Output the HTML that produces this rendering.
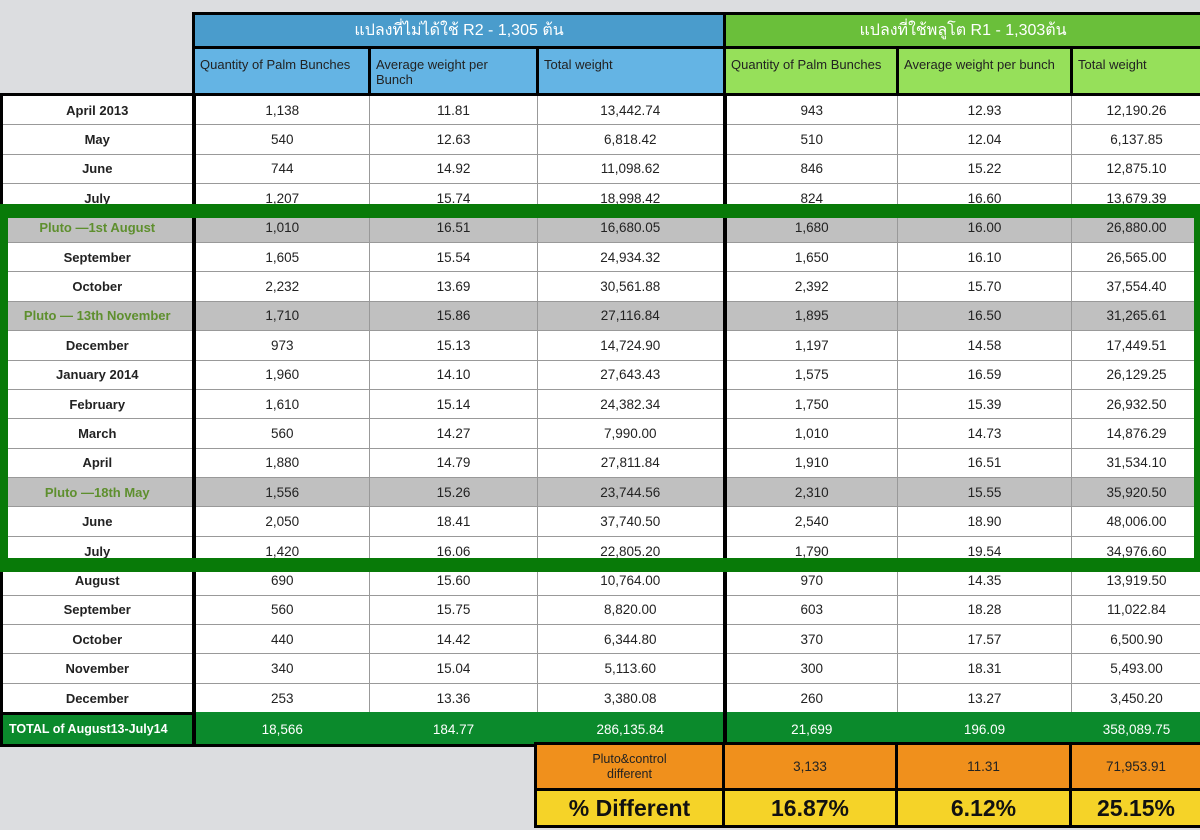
<!DOCTYPE html>
<html><head><meta charset="utf-8"><style>
body{margin:0;width:1200px;height:840px;position:relative;background:#fff;font-family:"Liberation Sans","Noto Sans CJK SC",sans-serif;overflow:hidden}
.bg{position:absolute;left:0;top:0;width:1200px;height:94px;background:#dcdde0}
.bg2{position:absolute;left:0;top:742px;width:1200px;height:88px;background:#dcdde0}
table{border-collapse:collapse;table-layout:fixed;position:absolute}
td{padding:0;font-size:13.5px;color:#222;text-align:center;overflow:hidden;white-space:nowrap}
#hd{left:192px;top:12px;width:1008px}
#hd td{border:3px solid #000;color:#fff}
#hd .t1{height:31px;font-size:16px}
#hd .t2{height:43px;text-align:left;vertical-align:top;padding:8px 0 0 5px;font-size:13px;color:#222;white-space:normal;line-height:15px}
#dt{left:0;top:93px;width:1200px;border-top:3px solid #000}
#dt td{height:28.4px;border:1px solid #999;background:#fff}
#dt td.l{font-weight:bold;font-size:13px;border-left:3px solid #000;border-right:4px solid #000}
#dt td.k{border-right:4px solid #000}
#dt tr.g td{background:#c0c0c0}
#dt tr.g td.l{color:#5e8f2e}
#dt tr.tot td{background:#0b8a2c;color:#fff;border-top:3px solid #000;border-bottom:3px solid #000;border-color:#0b8a2c #0b8a2c #000 #0b8a2c}
#dt tr.tot td.l{text-align:left;padding-left:6px;font-size:12.5px;border-left:3px solid #000;border-right:4px solid #000;border-top:3px solid #000}
#dt tr.tot td.k{border-right:4px solid #000}
#bt{left:534px;top:742px;width:666px}
#bt td{border:3px solid #000}
.fr{position:absolute;border:8px solid #087a08;border-right-width:6px}
</style></head><body>
<div class="bg"></div><div class="bg2"></div>
<table id="hd"><colgroup><col style="width:176px"><col style="width:168px"><col style="width:187px"><col style="width:173px"><col style="width:174px"><col style="width:130px"></colgroup>
<tr><td colspan="3" class="t1" style="background:#4a9ccc">แปลงที่ไม่ได้ใช้ R2 - 1,305 ต้น</td><td colspan="3" class="t1" style="background:#6abf3a">แปลงที่ใช้พลูโต R1 - 1,303ต้น</td></tr>
<tr><td class="t2" style="background:#64b4e4">Quantity of Palm Bunches</td><td class="t2" style="background:#64b4e4;padding-right:40px">Average weight per Bunch</td><td class="t2" style="background:#64b4e4">Total weight</td><td class="t2" style="background:#96e05a">Quantity of Palm Bunches</td><td class="t2" style="background:#96e05a">Average weight per bunch</td><td class="t2" style="background:#96e05a">Total weight</td></tr>
</table>
<table id="dt"><colgroup><col style="width:192px"><col style="width:176px"><col style="width:168px"><col style="width:187px"><col style="width:173px"><col style="width:174px"><col style="width:130px"></colgroup>
<tr><td class="l">April 2013</td><td>1,138</td><td>11.81</td><td class="k">13,442.74</td><td>943</td><td>12.93</td><td>12,190.26</td></tr>
<tr><td class="l">May</td><td>540</td><td>12.63</td><td class="k">6,818.42</td><td>510</td><td>12.04</td><td>6,137.85</td></tr>
<tr><td class="l">June</td><td>744</td><td>14.92</td><td class="k">11,098.62</td><td>846</td><td>15.22</td><td>12,875.10</td></tr>
<tr><td class="l">July</td><td>1,207</td><td>15.74</td><td class="k">18,998.42</td><td>824</td><td>16.60</td><td>13,679.39</td></tr>
<tr class="g"><td class="l">Pluto —1st August</td><td>1,010</td><td>16.51</td><td class="k">16,680.05</td><td>1,680</td><td>16.00</td><td>26,880.00</td></tr>
<tr><td class="l">September</td><td>1,605</td><td>15.54</td><td class="k">24,934.32</td><td>1,650</td><td>16.10</td><td>26,565.00</td></tr>
<tr><td class="l">October</td><td>2,232</td><td>13.69</td><td class="k">30,561.88</td><td>2,392</td><td>15.70</td><td>37,554.40</td></tr>
<tr class="g"><td class="l">Pluto — 13th November</td><td>1,710</td><td>15.86</td><td class="k">27,116.84</td><td>1,895</td><td>16.50</td><td>31,265.61</td></tr>
<tr><td class="l">December</td><td>973</td><td>15.13</td><td class="k">14,724.90</td><td>1,197</td><td>14.58</td><td>17,449.51</td></tr>
<tr><td class="l">January 2014</td><td>1,960</td><td>14.10</td><td class="k">27,643.43</td><td>1,575</td><td>16.59</td><td>26,129.25</td></tr>
<tr><td class="l">February</td><td>1,610</td><td>15.14</td><td class="k">24,382.34</td><td>1,750</td><td>15.39</td><td>26,932.50</td></tr>
<tr><td class="l">March</td><td>560</td><td>14.27</td><td class="k">7,990.00</td><td>1,010</td><td>14.73</td><td>14,876.29</td></tr>
<tr><td class="l">April</td><td>1,880</td><td>14.79</td><td class="k">27,811.84</td><td>1,910</td><td>16.51</td><td>31,534.10</td></tr>
<tr class="g"><td class="l">Pluto —18th May</td><td>1,556</td><td>15.26</td><td class="k">23,744.56</td><td>2,310</td><td>15.55</td><td>35,920.50</td></tr>
<tr><td class="l">June</td><td>2,050</td><td>18.41</td><td class="k">37,740.50</td><td>2,540</td><td>18.90</td><td>48,006.00</td></tr>
<tr><td class="l">July</td><td>1,420</td><td>16.06</td><td class="k">22,805.20</td><td>1,790</td><td>19.54</td><td>34,976.60</td></tr>
<tr><td class="l">August</td><td>690</td><td>15.60</td><td class="k">10,764.00</td><td>970</td><td>14.35</td><td>13,919.50</td></tr>
<tr><td class="l">September</td><td>560</td><td>15.75</td><td class="k">8,820.00</td><td>603</td><td>18.28</td><td>11,022.84</td></tr>
<tr><td class="l">October</td><td>440</td><td>14.42</td><td class="k">6,344.80</td><td>370</td><td>17.57</td><td>6,500.90</td></tr>
<tr><td class="l">November</td><td>340</td><td>15.04</td><td class="k">5,113.60</td><td>300</td><td>18.31</td><td>5,493.00</td></tr>
<tr><td class="l">December</td><td>253</td><td>13.36</td><td class="k">3,380.08</td><td>260</td><td>13.27</td><td>3,450.20</td></tr>
<tr class="tot"><td class="l">TOTAL of August13-July14</td><td>18,566</td><td>184.77</td><td class="k">286,135.84</td><td>21,699</td><td>196.09</td><td>358,089.75</td></tr>
</table>
<table id="bt"><colgroup><col style="width:188px"><col style="width:173px"><col style="width:174px"><col style="width:131px"></colgroup>
<tr><td style="background:#f0901c;height:43px;font-size:12.5px;white-space:normal;line-height:15px">Pluto&amp;control<br>different</td><td style="background:#f0901c">3,133</td><td style="background:#f0901c">11.31</td><td style="background:#f0901c">71,953.91</td></tr>
<tr><td style="background:#f5d328;height:34px;font-size:23px;font-weight:bold;color:#111">% Different</td><td style="background:#f5d328;font-size:23px;font-weight:bold;color:#111">16.87%</td><td style="background:#f5d328;font-size:23px;font-weight:bold;color:#111">6.12%</td><td style="background:#f5d328;font-size:23px;font-weight:bold;color:#111">25.15%</td></tr>
</table>
<div class="fr" style="left:0;top:204px;width:1186px;height:340px;border-top-width:14px;border-bottom-width:14px"></div>
</body></html>
